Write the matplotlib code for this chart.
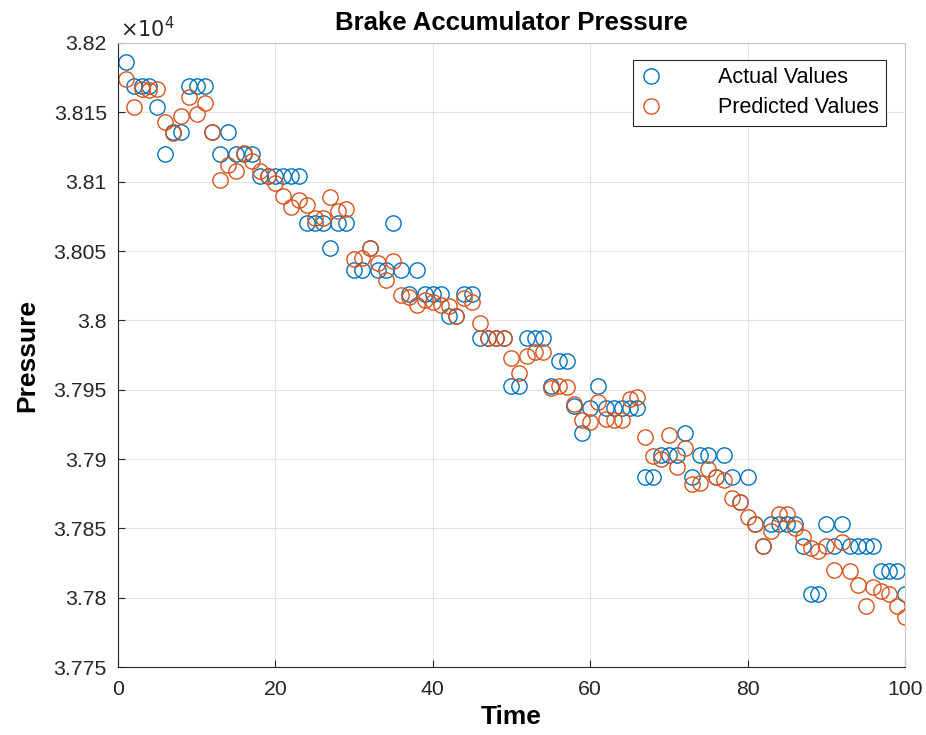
import numpy as np
import matplotlib
matplotlib.use("Agg")
import matplotlib.pyplot as plt

plt.rcParams['font.family'] = ['Liberation Sans', 'DejaVu Sans']

time = np.arange(1, 101)

actual = [38186, 38169, 38169, 38169, 38154, 38120, 38136, 38136, 38169, 38169,
          38169, 38136, 38120, 38136, 38120, 38120, 38120, 38104, 38104, 38104,
          38104, 38104, 38104, 38070, 38070, 38070, 38052, 38070, 38070, 38036,
          38036, 38052, 38036, 38036, 38070, 38036, 38019, 38036, 38019, 38019,
          38019, 38003, 38003, 38019, 38019, 37987, 37987, 37987, 37987, 37953,
          37953, 37987, 37987, 37987, 37953, 37971, 37971, 37938, 37919, 37937,
          37953, 37937, 37937, 37937, 37937, 37937, 37887, 37887, 37903, 37903,
          37903, 37919, 37887, 37903, 37903, 37887, 37903, 37887, 37869, 37887,
          37853, 37837, 37853, 37853, 37853, 37853, 37837, 37803, 37803, 37853,
          37837, 37853, 37837, 37837, 37837, 37837, 37819, 37819, 37819, 37803]

predicted = [38174, 38154, 38167, 38166, 38167, 38143, 38135, 38147, 38161, 38149,
             38157, 38136, 38101, 38112, 38108, 38121, 38115, 38108, 38104, 38099,
             38090, 38082, 38087, 38083, 38074, 38074, 38089, 38079, 38080, 38044,
             38045, 38052, 38041, 38029, 38043, 38018, 38017, 38011, 38015, 38013,
             38011, 38010, 38003, 38016, 38013, 37998, 37987, 37987, 37987, 37973,
             37962, 37974, 37977, 37977, 37951, 37953, 37952, 37940, 37928, 37927,
             37941, 37929, 37928, 37928, 37943, 37945, 37916, 37902, 37900, 37917,
             37894, 37908, 37882, 37883, 37893, 37887, 37885, 37872, 37869, 37858,
             37853, 37837, 37848, 37860, 37860, 37850, 37844, 37836, 37834, 37837,
             37820, 37840, 37819, 37809, 37794, 37808, 37805, 37803, 37794, 37786]

yticks = [3.775, 3.78, 3.785, 3.79, 3.795, 3.8, 3.805, 3.81, 3.815, 3.82]
ytick_labels = ['3.775', '3.78', '3.785', '3.79', '3.795', '3.8', '3.805', '3.81', '3.815', '3.82']
xticks = [0, 20, 40, 60, 80, 100]

fig = plt.figure(figsize=(9.26, 7.35), dpi=100)
ax = fig.add_axes([0.1274, 0.0925, 0.8499, 0.849])

scale = 1e4
ax.plot(time, np.array(actual) / scale, 'o', mfc='none', mec='#0072BD',
        ms=11, mew=1.0, label='Actual Values')
ax.plot(time, np.array(predicted) / scale, 'o', mfc='none', mec='#D95319',
        ms=11, mew=1.0, label='Predicted Values')

ax.set_xlim(0, 100)
ax.set_ylim(3.775, 3.82)
ax.set_xticks(xticks)
ax.set_yticks(yticks)
ax.set_yticklabels(ytick_labels)
ax.tick_params(direction='in', labelsize=15.3, colors='#262626', length=5)
ax.tick_params(axis='x', pad=9)
ax.tick_params(axis='y', pad=8)
ax.grid(True, color='#e3e3e3', linewidth=0.8)
ax.set_axisbelow(True)
for side in ['left', 'bottom']:
    ax.spines[side].set_color('#262626')
for side in ['top', 'right']:
    ax.spines[side].set_color('#c8c8c8')

ax.set_title('Brake Accumulator Pressure', fontsize=18.5, fontweight='bold', pad=9)
ax.set_xlabel('Time', fontsize=19, fontweight='bold', labelpad=5)
ax.set_ylabel('Pressure', fontsize=19, fontweight='bold', labelpad=10)
ax.text(0.002, 1.003, r'$\times10^4$', transform=ax.transAxes, fontsize=15,
        color='#262626', va='bottom', ha='left')

leg = ax.legend(loc='upper right', bbox_to_anchor=(0.976, 0.973), fontsize=15.5,
                fancybox=False, edgecolor='#262626', framealpha=1,
                handlelength=1.0, handletextpad=2.6, borderpad=0.35,
                labelspacing=0.42, borderaxespad=0)
leg.get_frame().set_linewidth(0.8)

fig.savefig('out.png', dpi=100)
